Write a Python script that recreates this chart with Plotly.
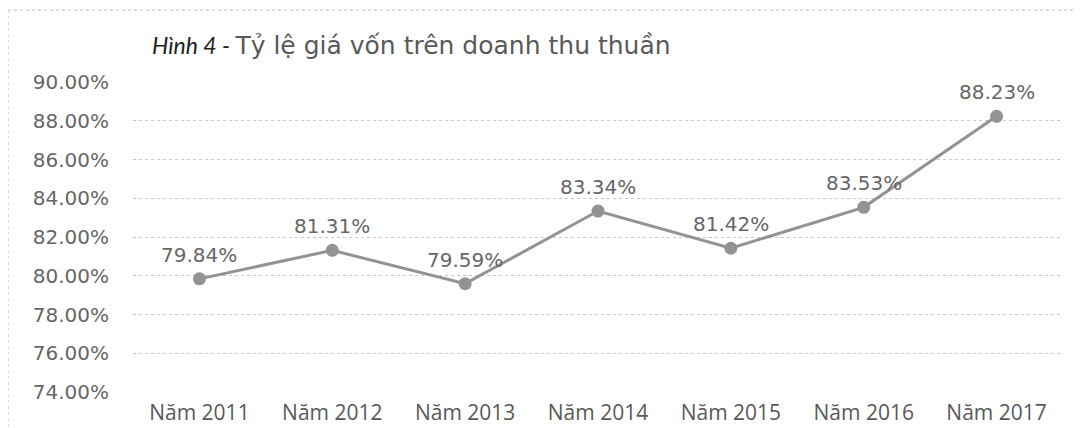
import plotly.graph_objects as go

categories = ["Năm 2011", "Năm 2012", "Năm 2013", "Năm 2014", "Năm 2015", "Năm 2016", "Năm 2017"]
values = [79.84, 81.31, 79.59, 83.34, 81.42, 83.53, 88.23]
y_ticks = [74, 76, 78, 80, 82, 84, 86, 88, 90]
y_tick_labels = ["74.00%", "76.00%", "78.00%", "80.00%", "82.00%", "84.00%", "86.00%", "88.00%", "90.00%"]
title_italic = "Hình 4 - "
title_main = "Tỷ lệ giá vốn trên doanh thu thuần"

# page body has an 8px margin, so the figure is sized/offset to compensate
OFF = 8
W, H = 1084 - OFF, 428 - OFF
ML, MR, MT, MB = 133 - OFF, 21, 82 - OFF, 36
pw, ph = W - ML - MR, H - MT - MB

fig = go.Figure()
fig.add_trace(go.Scatter(
    x=categories, y=values, mode="lines+markers",
    line=dict(color="#939393", width=3),
    marker=dict(color="#939393", size=13),
    hoverinfo="skip", showlegend=False,
))

for c, v in zip(categories, values):
    fig.add_annotation(
        x=c, y=v, xref="x", yref="y", text=f"{v:.2f}%", showarrow=False,
        yanchor="middle", yshift=24,
        font=dict(family="DejaVu Sans", size=20, color="#666666"),
    )

fig.add_annotation(
    xref="paper", yref="paper", x=(150 - OFF - ML) / pw, y=(H - MB - (46 - OFF)) / ph,
    xanchor="left", yanchor="middle", showarrow=False,
    text=(f"<span style='font-family:Lato;font-style:italic;font-size:23px;color:#222222'>{title_italic}</span>"
          f"<span style='font-family:DejaVu Sans;font-size:25px;color:#595959'>{title_main}</span>"),
)

# dotted frame (top and left edges)
x0 = (0 - ML) / pw
x1 = (W - ML) / pw
ytop = (H - MB - (10 - OFF)) / ph
ybot = (H - MB - H) / ph
fig.add_shape(type="line", xref="paper", yref="paper", x0=x0, x1=x1, y0=ytop, y1=ytop,
              line=dict(color="#bdbdbd", width=1, dash="dot"))
fig.add_shape(type="line", xref="paper", yref="paper", x0=x0, x1=x0, y0=ytop, y1=ybot,
              line=dict(color="#bdbdbd", width=1, dash="dot"))

fig.update_layout(
    width=W, height=H,
    margin=dict(l=ML, r=MR, t=MT, b=MB),
    paper_bgcolor="white", plot_bgcolor="white",
    xaxis=dict(
        type="category", range=[-0.5, len(categories) - 0.5],
        showgrid=False, zeroline=False, showline=False, ticks="",
        ticklabelstandoff=6, automargin=False,
        tickfont=dict(family="Open Sans", size=21, color="#595959"),
    ),
    yaxis=dict(
        range=[74, 90], tickvals=y_ticks, ticktext=y_tick_labels,
        showgrid=True, gridcolor="#c8c8c8", gridwidth=1, griddash="dot",
        zeroline=False, showline=False, ticks="", ticklabelstandoff=23,
        automargin=False,
        tickfont=dict(family="DejaVu Sans", size=20, color="#666666"),
    ),
)

fig.write_html("out.html")
